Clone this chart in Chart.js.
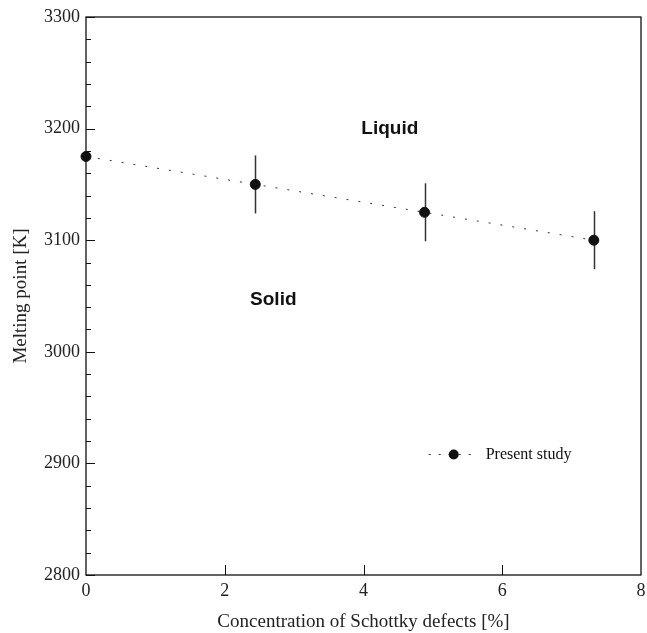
<!DOCTYPE html>
<html>
<head>
<meta charset="utf-8">
<script src="https://cdn.jsdelivr.net/npm/chart.js@4.4.1/dist/chart.umd.min.js"></script>
<style>
  html, body { margin: 0; padding: 0; background: #fff; }
  #wrap { width: 647px; height: 633px; }
</style>
</head>
<body>
<div id="wrap"><canvas id="melt_chart" width="647" height="633"></canvas></div>
<script>
// data
const concentration = [0, 2.44, 4.88, 7.32];
const meltingPoint = [3175, 3150, 3125, 3100];
const meltingErr = [0, 26, 26, 26];
const seriesLabel = 'Present study';
const regionLabels = [
    {text: 'Liquid', x: 4.38, y: 3200},
    {text: 'Solid', x: 2.70, y: 3047}
];

const serif = "'Liberation Serif', 'Times New Roman', serif";
const sans = "'Liberation Sans', Arial, sans-serif";

const points = concentration.map((c, i) => ({x: c, y: meltingPoint[i]}));

// frame, inward ticks, error bars, labels, legend
const decorPlugin = {
    id: 'decor',
    beforeDatasetsDraw(chart) {
        const ctx = chart.ctx;
        const xs = chart.scales.x, ys = chart.scales.y;
        ctx.save();
        ctx.strokeStyle = '#333';
        ctx.lineWidth = 1.5;
        concentration.forEach((c, i) => {
            if (!meltingErr[i]) return;
            const px = Math.round(xs.getPixelForValue(c)) + 0.5;
            ctx.beginPath();
            ctx.moveTo(px, ys.getPixelForValue(meltingPoint[i] + meltingErr[i]));
            ctx.lineTo(px, ys.getPixelForValue(meltingPoint[i] - meltingErr[i]));
            ctx.stroke();
        });
        ctx.restore();
    },
    afterDatasetsDraw(chart) {
        const ctx = chart.ctx;
        const a = chart.chartArea;
        const xs = chart.scales.x, ys = chart.scales.y;
        ctx.save();
        ctx.strokeStyle = '#111';
        ctx.lineWidth = 1.3;
        ctx.strokeRect(a.left, a.top, a.right - a.left, a.bottom - a.top);

        // y ticks on the left axis, pointing in
        ctx.lineWidth = 1;
        for (let v = 2800; v <= 3300; v += 20) {
            const py = Math.round(ys.getPixelForValue(v)) + 0.5;
            const len = (v % 100 === 0) ? 9 : 5;
            ctx.beginPath();
            ctx.moveTo(a.left, py);
            ctx.lineTo(a.left + len, py);
            ctx.stroke();
        }
        // x major ticks pointing up
        for (let v = 2; v < 8; v += 2) {
            const px = Math.round(xs.getPixelForValue(v)) + 0.5;
            ctx.beginPath();
            ctx.moveTo(px, a.bottom);
            ctx.lineTo(px, a.bottom - 10);
            ctx.stroke();
        }

        // region labels
        ctx.fillStyle = '#111';
        ctx.font = 'bold 19px ' + sans;
        ctx.textAlign = 'center';
        ctx.textBaseline = 'middle';
        regionLabels.forEach(r => {
            ctx.fillText(r.text, xs.getPixelForValue(r.x), ys.getPixelForValue(r.y));
        });

        // legend
        const lx0 = xs.getPixelForValue(4.94), lx1 = xs.getPixelForValue(5.66);
        const ly = ys.getPixelForValue(2908);
        ctx.strokeStyle = '#333';
        ctx.setLineDash([2, 8]);
        ctx.beginPath();
        ctx.moveTo(lx0, ly);
        ctx.lineTo(lx1, ly);
        ctx.stroke();
        ctx.setLineDash([]);
        ctx.beginPath();
        ctx.arc((lx0 + lx1) / 2, ly, 5, 0, Math.PI * 2);
        ctx.fill();
        ctx.font = '16px ' + serif;
        ctx.textAlign = 'left';
        ctx.fillText(seriesLabel, lx1 + 7, ly);
        ctx.restore();
    }
};

const config = {
    type: 'scatter',
    data: {
        datasets: [{
            label: seriesLabel,
            data: points,
            showLine: true,
            clip: false,
            borderColor: '#333',
            borderWidth: 1,
            borderDash: [2, 10],
            pointBackgroundColor: '#111',
            pointBorderColor: '#111',
            pointRadius: 5,
            pointHoverRadius: 5
        }]
    },
    options: {
        responsive: false,
        animation: false,
        layout: {padding: {top: 17, right: 2, left: 0, bottom: 0}},
        plugins: {
            legend: {display: false},
            tooltip: {enabled: false}
        },
        scales: {
            x: {
                type: 'linear',
                min: 0,
                max: 8,
                grid: {display: false, drawTicks: false},
                border: {display: false},
                ticks: {stepSize: 2, padding: 5, color: '#222', font: {family: serif, size: 18},
                    callback: v => String(v)},
                title: {display: true, text: 'Concentration of Schottky defects [%]', color: '#222',
                    font: {family: serif, size: 19}, padding: {top: 4, bottom: 0}},
                afterFit(scale) {
                    scale.height = 58;
                    scale.paddingLeft = 0;
                    scale.paddingRight = 0;
                }
            },
            y: {
                type: 'linear',
                min: 2800,
                max: 3300,
                grid: {display: false, drawTicks: false},
                border: {display: false},
                ticks: {stepSize: 100, padding: 6, color: '#222', font: {family: serif, size: 18},
                    callback: v => String(v)},
                title: {display: true, text: 'Melting point [K]', color: '#222',
                    font: {family: serif, size: 19}, padding: {top: 10, bottom: 4}},
                afterFit(scale) {
                    scale.width = 86;
                    scale.paddingTop = 0;
                    scale.paddingBottom = 0;
                }
            }
        }
    },
    plugins: [decorPlugin]
};

const meltChart = new Chart(document.getElementById('melt_chart'), config);
</script>
</body>
</html>
